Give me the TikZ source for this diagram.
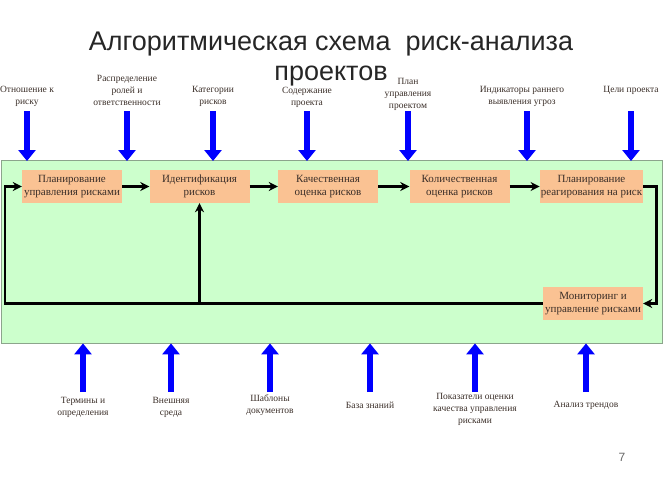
\documentclass[tikz,border=0pt]{standalone}
\usepackage{fontspec}
\setmainfont{Liberation Serif}
\newfontfamily\titlefont{Liberation Sans}
\usetikzlibrary{positioning, calc, arrows.meta}

\definecolor{panelgreen}{HTML}{CCFFCC}
\definecolor{panelline}{HTML}{8CA58C}
\definecolor{boxpeach}{HTML}{FAC293}
\definecolor{boxtext}{HTML}{3A2E28}

\tikzset{
  stage/.style={rectangle, fill=boxpeach, minimum width=100pt, minimum height=33pt,
    inner sep=1pt, align=center, text=boxtext, font=\fontsize{11}{13}\selectfont},
  flow/.style={line width=2.2pt, -{Stealth[length=9pt,width=9pt]}},
  feed/.style={line width=6pt, blue, -{Triangle[length=11pt,width=17pt]}},
  info/.style={align=center, text=boxtext, inner sep=0pt, font=\fontsize{9.5}{12}\selectfont}
}

\begin{document}
\begin{tikzpicture}[x=1pt,y=-1pt]
        \useasboundingbox (0,0) rectangle (664,498);
        % title
        \node[font=\titlefont\fontsize{27}{30}\selectfont, text=black!85, align=center] (title) at (331,59)
          {Алгоритмическая схема\ \ риск-анализа\\проектов};
        \node[font=\titlefont\fontsize{12}{14}\selectfont, text=black!60] (page) at (622,457) {7};
        % panel
        \node[draw=panelline, fill=panelgreen, line width=0.8pt, minimum width=661pt, minimum height=183pt] (panel) at (331.5,251.5) {};
        % stages
        \node[stage] (plan) at (72,186.5) {Планирование\\управления рисками};
        \node[stage] (ident) at (199.5,186.5) {Идентификация\\рисков};
        \node[stage] (qual) at (328,186.5) {Качественная\\оценка рисков};
        \node[stage] (quant) at (459.5,186.5) {Количественная\\оценка рисков};
        \node[stage] (resp) at (591.5,186.5) {Планирование\\реагирования на риск};
        \node[stage] (mon) at (593,303.5) {Мониторинг и\\управление рисками};
        \draw[flow] (plan) -- (ident);
        \draw[flow] (ident) -- (qual);
        \draw[flow] (qual) -- (quant);
        \draw[flow] (quant) -- (resp);
        \draw[flow] (resp.east) -- ++(13,0) |- (mon.east);
        \coordinate (loop) at (5,303.5);
        \draw[flow] (mon.west) -- (loop) |- (plan.west);
        \draw[flow] (loop -| ident.south) -- (ident.south);
        % inputs from above
        \node[info] (in1) at (27,96) {Отношение к\\риску};
        \node[info] (in2) at (127,90) {Распределение\\ролей и\\ответственности};
        \node[info] (in3) at (213,96) {Категории\\рисков};
        \node[info] (in4) at (307,97) {Содержание\\проекта};
        \node[info] (in5) at (408,94) {План\\управления\\проектом};
        \node[info] (in6) at (522,96) {Индикаторы раннего\\выявления угроз};
        \node[info] (in7) at (631,90) {Цели проекта};
        \foreach \n/\x in {in1/27,in2/127,in3/213,in4/307,in5/408,in6/527,in7/631}
          \draw[feed] (\x,111) -- (\x,161);
        % inputs from below
        \node[info] (ex1) at (83,407.5) {Термины и\\определения};
        \node[info] (ex2) at (171,407.5) {Внешняя\\среда};
        \node[info] (ex3) at (270,405.5) {Шаблоны\\документов};
        \node[info] (ex4) at (370,405) {База знаний};
        \node[info] (ex5) at (475,409.5) {Показатели оценки\\качества управления\\рисками};
        \node[info] (ex6) at (586,405) {Анализ трендов};
        \foreach \n in {ex1,ex2,ex3,ex4,ex5,ex6}
          \draw[feed] (\n.center |- 0,392) -- (\n.center |- panel.south);
    \end{tikzpicture}
\end{document}
